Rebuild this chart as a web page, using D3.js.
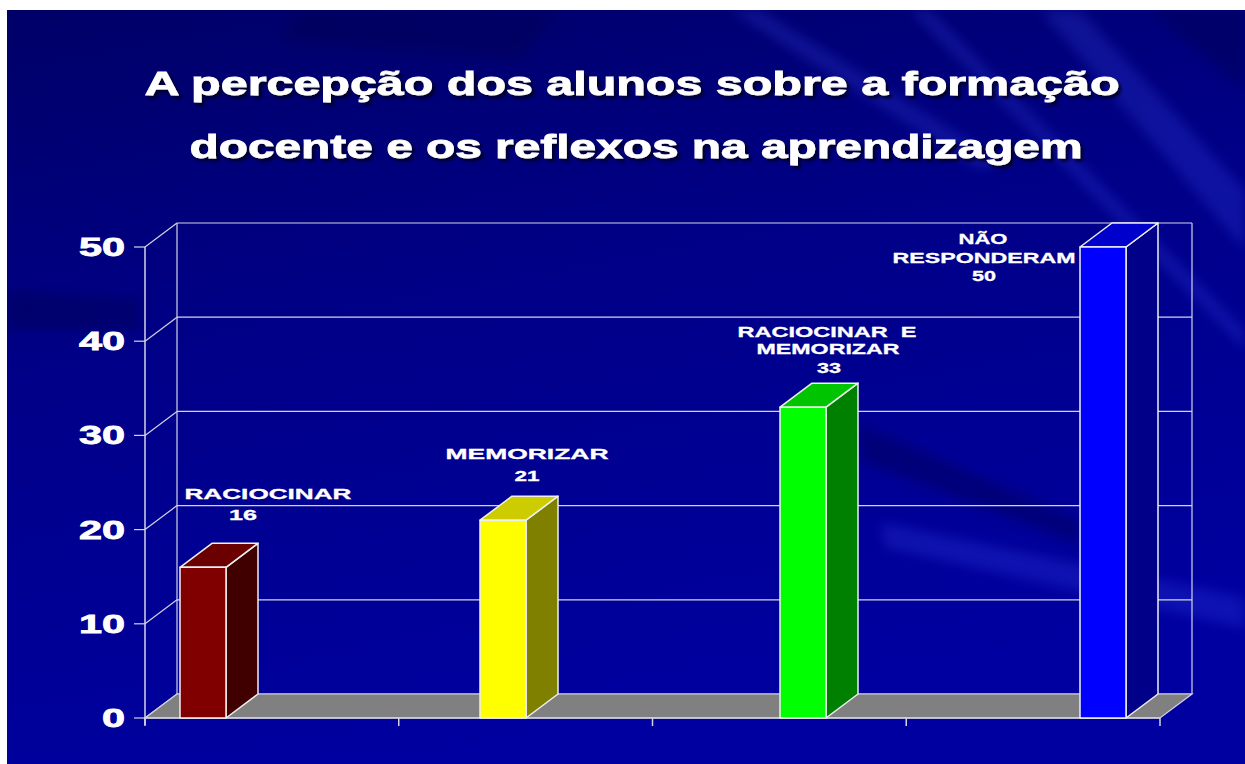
<!DOCTYPE html>
<html>
<head>
<meta charset="utf-8">
<script src="https://cdn.jsdelivr.net/npm/d3@7"></script>
<style>
  body { margin: 0; background: #fff; }
  svg { display: block; }
  text { font-family: "Liberation Sans", Arial, sans-serif; font-weight: bold; fill: #fff; }
</style>
</head>
<body>
<script>
// chart data
var categories = ["RACIOCINAR", "MEMORIZAR", "RACIOCINAR E MEMORIZAR", "NÃO RESPONDERAM"];
var values = [16, 21, 33, 50];
var labelLines = [["RACIOCINAR", "16"], ["MEMORIZAR", "21"], ["RACIOCINAR  E", "MEMORIZAR", "33"], ["NÃO", "RESPONDERAM", "50"]];
var yTicks = [0, 10, 20, 30, 40, 50];
var titleLines = ["A percepção dos alunos sobre a formação", "docente e os reflexos na aprendizagem"];

var frontColors = ["#800000", "#ffff00", "#00ff00", "#0000ff"];
var topColors = ["#6a0000", "#cccc00", "#00c400", "#0000cc"];
var sideColors = ["#400000", "#808000", "#008000", "#000088"];

var width = 1245,
  height = 764;

// 3d depth offset
var dx = 32, dy = -24;
var barW = 46;

var svg = d3.select("body").append("svg")
  .attr("width", width)
  .attr("height", height)

var defs = svg.append("defs");
var bg = defs.append("linearGradient").attr("id", "bg")
  .attr("x1", 0).attr("y1", 0).attr("x2", 0.3).attr("y2", 1);
bg.append("stop").attr("offset", "0%").attr("stop-color", "#000068");
bg.append("stop").attr("offset", "45%").attr("stop-color", "#000088");
bg.append("stop").attr("offset", "100%").attr("stop-color", "#0000a0");
defs.append("filter").attr("id", "blur").append("feGaussianBlur").attr("stdDeviation", 6);
defs.append("filter").attr("id", "shadow")
  .attr("x", "-5%").attr("y", "-30%").attr("width", "110%").attr("height", "160%")
  .append("feDropShadow")
  .attr("dx", 3).attr("dy", 3).attr("stdDeviation", 1.5)
  .attr("flood-color", "#000022").attr("flood-opacity", 0.9);

// background
svg.append("rect").attr("x", 7).attr("y", 10).attr("width", width - 7).attr("height", height - 10)
  .attr("fill", "url(#bg)");

defs.append("clipPath").attr("id", "clip").append("rect")
  .attr("x", 7).attr("y", 10).attr("width", width - 7).attr("height", height - 10);
var streaks = svg.append("g").attr("clip-path", "url(#clip)");
// light rays
var lightRays = [
  [[880, 522], [1245, 598], [1245, 628], [885, 548]],
  [[1080, 10], [1245, 190], [1245, 250], [1040, 10]],
  [[930, 10], [1245, 330], [1245, 350], [910, 10]],
  [[760, 10], [1000, 160], [980, 170], [730, 10]]
];
streaks.selectAll(".light").data(lightRays).enter().append("polygon")
  .attr("points", function (d) { return d.join(" "); })
  .attr("fill", "#4a5cff").attr("opacity", 0.2).attr("filter", "url(#blur)");
var darkRays = [
  [[860, 425], [1080, 520], [1080, 545], [860, 460]],
  [[7, 290], [140, 300], [140, 330], [7, 330]],
  [[1150, 10], [1245, 90], [1245, 10]],
  [[300, 10], [560, 10], [520, 60], [280, 40]]
];
streaks.selectAll(".dark").data(darkRays).enter().append("polygon")
  .attr("points", function (d) { return d.join(" "); })
  .attr("fill", "#000050").attr("opacity", 0.4).attr("filter", "url(#blur)");

// scales
var y = d3.scaleLinear().domain([0, 50]).range([718, 247]);
var xBand = d3.scaleBand().domain(categories).range([145, 1160]);
var xBar = d3.scalePoint().domain(categories).range([180, 1080]);

var x0 = xBand.range()[0], x1 = xBand.range()[1];
var gridColor = "#d4d4e4";

var chart = svg.append("g");

// back wall grid
chart.selectAll(".grid").data(yTicks).enter().append("line")
  .attr("x1", x0 + dx).attr("x2", x1 + dx)
  .attr("y1", function (d) { return y(d) + dy; })
  .attr("y2", function (d) { return y(d) + dy; })
  .attr("stroke", gridColor).attr("stroke-width", 1.2);
// side wall diagonals
chart.selectAll(".diag").data(yTicks).enter().append("line")
  .attr("x1", x0).attr("x2", x0 + dx)
  .attr("y1", function (d) { return y(d); })
  .attr("y2", function (d) { return y(d) + dy; })
  .attr("stroke", gridColor).attr("stroke-width", 1.2);
// wall verticals
[x0 + dx, x1 + dx].forEach(function (xx) {
  chart.append("line").attr("x1", xx).attr("x2", xx)
    .attr("y1", y(50) + dy).attr("y2", y(0) + dy)
    .attr("stroke", gridColor).attr("stroke-width", 1.2);
});

// floor
chart.append("polygon")
  .attr("points", [[x0, y(0)], [x1, y(0)], [x1 + dx, y(0) + dy], [x0 + dx, y(0) + dy]].join(" "))
  .attr("fill", "#808080").attr("stroke", gridColor).attr("stroke-width", 1.2);

// value axis
chart.append("line").attr("x1", x0).attr("x2", x0)
  .attr("y1", y(50)).attr("y2", y(0) + 7)
  .attr("stroke", gridColor).attr("stroke-width", 1.5);
chart.selectAll(".ytick").data(yTicks).enter().append("line")
  .attr("x1", x0 - 11).attr("x2", x0)
  .attr("y1", function (d) { return y(d); })
  .attr("y2", function (d) { return y(d); })
  .attr("stroke", gridColor).attr("stroke-width", 1.2);
chart.selectAll(".ylab").data(yTicks).enter().append("text")
  .attr("x", 125)
  .attr("y", function (d) { return y(d) + 9; })
  .attr("text-anchor", "end")
  .attr("font-size", 26)
  .attr("textLength", function (d) { return d === 0 ? 23 : 46; })
  .attr("lengthAdjust", "spacingAndGlyphs")
  .style("stroke", "#fff").style("stroke-width", 0.8)
  .text(function (d) { return d; });

// category ticks on band boundaries
var catTicks = categories.map(function (c) { return xBand(c); }).concat([x1]);
chart.selectAll(".xtick").data(catTicks).enter().append("line")
  .attr("x1", function (d) { return d; }).attr("x2", function (d) { return d; })
  .attr("y1", y(0)).attr("y2", y(0) + 8)
  .attr("stroke", gridColor).attr("stroke-width", 1.5);
chart.append("line").attr("x1", x0).attr("x2", x1)
  .attr("y1", y(0)).attr("y2", y(0))
  .attr("stroke", gridColor).attr("stroke-width", 1.5);

// bars
var bars = chart.selectAll(".bar").data(values).enter().append("g");
bars.append("polygon") // side
  .attr("points", function (d, i) {
    var bx = xBar(categories[i]) + barW;
    return [[bx, y(d)], [bx + dx, y(d) + dy], [bx + dx, y(0) + dy], [bx, y(0)]].join(" ");
  })
  .attr("fill", function (d, i) { return sideColors[i]; });
bars.append("polygon") // top
  .attr("points", function (d, i) {
    var bx = xBar(categories[i]);
    return [[bx, y(d)], [bx + dx, y(d) + dy], [bx + barW + dx, y(d) + dy], [bx + barW, y(d)]].join(" ");
  })
  .attr("fill", function (d, i) { return topColors[i]; });
bars.append("rect") // front
  .attr("x", function (d, i) { return xBar(categories[i]); })
  .attr("y", function (d) { return y(d); })
  .attr("width", barW)
  .attr("height", function (d) { return y(0) - y(d); })
  .attr("fill", function (d, i) { return frontColors[i]; });
bars.selectAll("polygon, rect")
  .attr("stroke", "#f0f0f0").attr("stroke-width", 1.5).attr("stroke-linejoin", "round");

// data labels: offsets from the bar front top-left corner
var labelLayout = [
  [[88, -68, 167], [63, -47, 28]],
  [[47, -61, 163], [47, -39, 25]],
  [[47, -70, 179], [48, -53, 143], [49, -34, 24]],
  [[-97, -3, 49], [-96, 16, 183], [-96, 34, 24]]
];
values.forEach(function (v, i) {
  var bx = xBar(categories[i]), by = y(v);
  svg.selectAll(".lab" + i).data(labelLines[i]).enter().append("text")
    .attr("x", function (d, j) { return bx + labelLayout[i][j][0]; })
    .attr("y", function (d, j) { return by + labelLayout[i][j][1]; })
    .attr("text-anchor", "middle")
    .attr("font-size", 15)
    .attr("textLength", function (d, j) { return labelLayout[i][j][2]; })
    .attr("lengthAdjust", "spacingAndGlyphs")
    .style("white-space", "pre")
    .style("stroke", "#fff").style("stroke-width", 0.3)
    .text(function (d) { return d; });
});

// title with drop shadow
var titleX = [632, 636], titleY = [95, 158], titleW = [975, 893];
svg.append("g").attr("filter", "url(#shadow)")
  .selectAll(".tl").data(titleLines).enter().append("text")
  .attr("x", function (d, i) { return titleX[i]; })
  .attr("y", function (d, i) { return titleY[i]; })
  .attr("text-anchor", "middle")
  .attr("font-size", 33)
  .attr("textLength", function (d, i) { return titleW[i]; })
  .attr("lengthAdjust", "spacingAndGlyphs")
  .style("stroke", "#fff").style("stroke-width", 0.8)
  .text(function (d) { return d; });
</script>
</body>
</html>
